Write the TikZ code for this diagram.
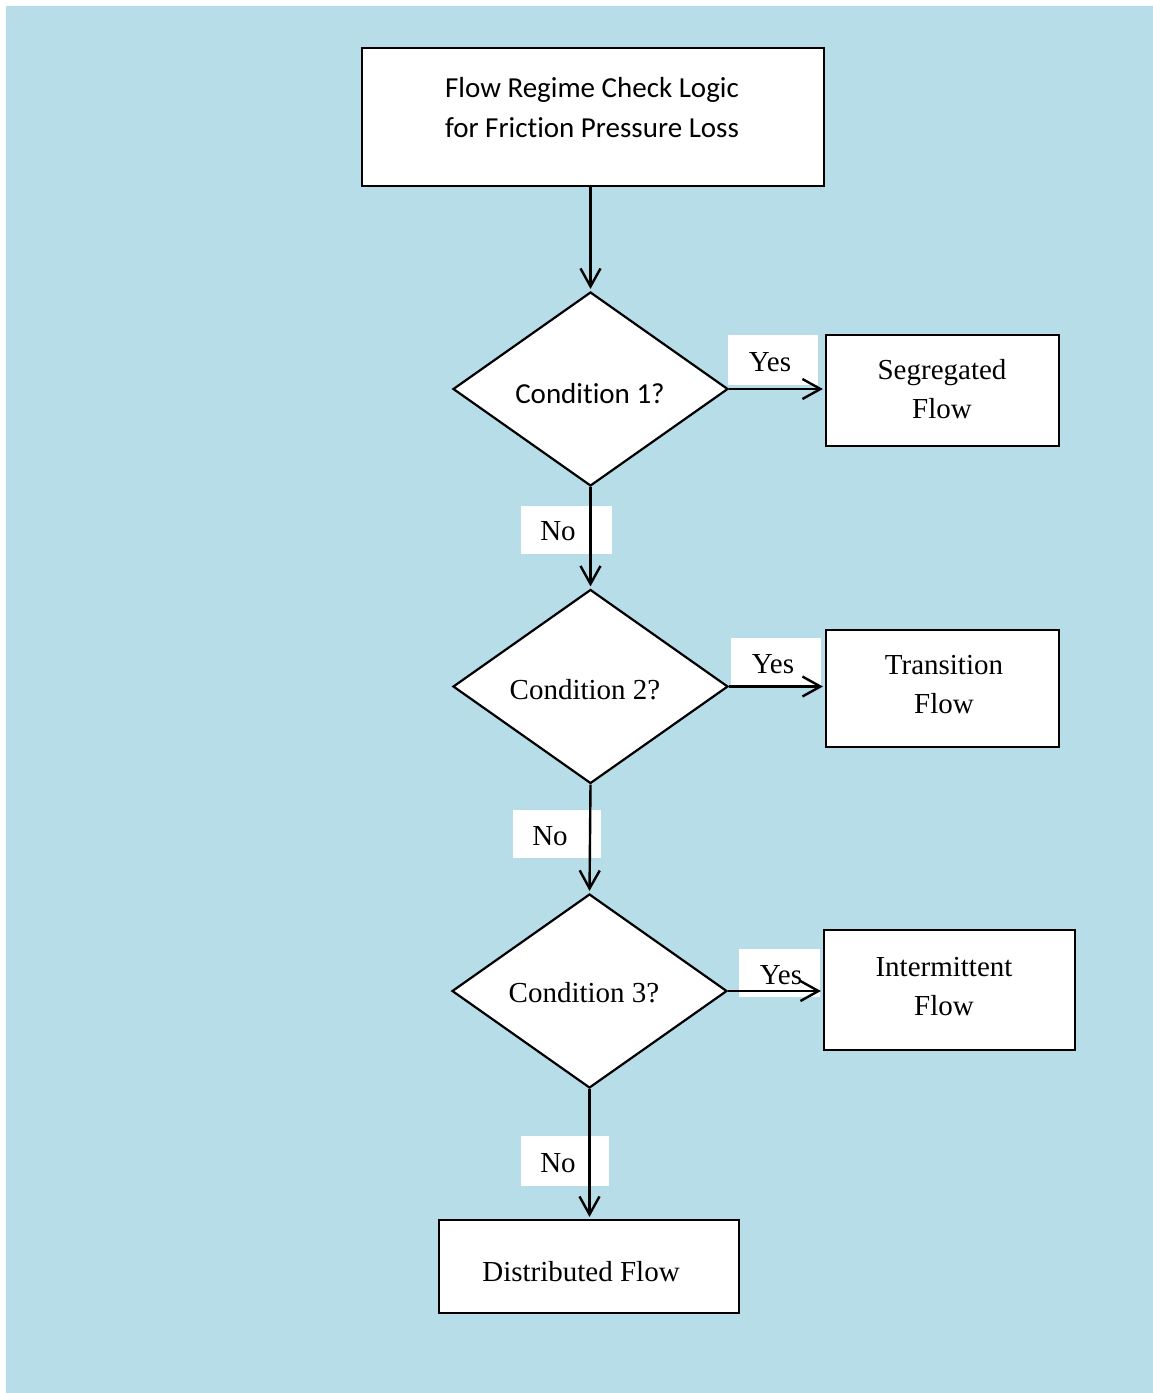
\documentclass[tikz,border=0pt]{standalone}
\usepackage{fontspec}
\setmainfont{Liberation Serif}
\newfontfamily\calfont[Ligatures=NoCommon]{Carlito}
\usetikzlibrary{shapes.geometric,arrows.meta}
\definecolor{bgblue}{HTML}{B7DDE8}
\begin{document}
\begin{tikzpicture}[x=1pt,y=-1pt,
  box/.style={draw=black,line width=2.2pt,fill=white,rectangle,inner sep=0pt},
  dia/.style={draw=black,line width=2.2pt,fill=white,diamond,inner sep=0pt,minimum width=275pt,minimum height=194pt},
  lblbox/.style={fill=white,draw=none,inner sep=0pt},
  txt/.style={font=\fontsize{29}{39}\selectfont,align=center,inner sep=0pt},
  caltxt/.style={font=\calfont\fontsize{29}{40}\selectfont,align=center,inner sep=0pt},
  conn/.style={line width=2.4pt,-{Straight Barb[length=18pt,width=20pt,line width=2.4pt]},shorten >=2pt}
]
\useasboundingbox (0,0) rectangle (1153,1393);
\fill[bgblue] (6,6) rectangle (1153,1393);

% main boxes
\node[box,minimum width=462pt,minimum height=138pt] (title) at (593,117) {};
\node[caltxt] (titlet) at (592,108) {Flow Regime Check Logic\\for Friction Pressure Loss};

\node[dia] (d1) at (590.5,389) {};
\node[caltxt] (d1t) at (590,394) {Condition 1?};
\node[dia] (d2) at (590.5,686.5) {};
\node[txt] (d2t) at (585,690) {Condition 2?};
\node[dia] (d3) at (589.5,991) {};
\node[txt] (d3t) at (584,993) {Condition 3?};

\node[box,minimum width=233pt,minimum height=111pt] (seg) at (942.5,390.5) {};
\node[txt] (segt) at (942,389) {Segregated\\Flow};
\node[box,minimum width=233pt,minimum height=117pt] (tra) at (942.5,688.5) {};
\node[txt] (trat) at (944,685) {Transition\\Flow};
\node[box,minimum width=251pt,minimum height=120pt] (int) at (949.5,990) {};
\node[txt] (intt) at (944,987) {Intermittent\\Flow};
\node[box,minimum width=300pt,minimum height=93pt] (dis) at (589,1266.5) {};
\node[txt] (dist) at (581,1272) {Distributed Flow};

% label boxes
\node[lblbox,minimum width=90pt,minimum height=50pt] (y1) at (773,360) {};
\node[txt] (y1t) at (770,362) {Yes};
\node[lblbox,minimum width=90pt,minimum height=49pt] (y2) at (776,662.5) {};
\node[txt] (y2t) at (773,664) {Yes};
\node[lblbox,minimum width=81pt,minimum height=48pt] (y3) at (779.5,973) {};
\node[txt] (y3t) at (781,975) {Yes};
\node[lblbox,minimum width=91pt,minimum height=48pt] (n1) at (566.5,530) {};
\node[txt] (n1t) at (558,531) {No};
\node[lblbox,minimum width=88pt,minimum height=48pt] (n2) at (557,834) {};
\node[txt] (n2t) at (550,836) {No};
\node[lblbox,minimum width=88pt,minimum height=50pt] (n3) at (565,1161) {};
\node[txt] (n3t) at (558,1163) {No};

% connectors
\draw[conn] (d1.north |- title.south) -- (d1.north);
\draw[conn] (d1.east) -- (d1.east -| seg.west);
\draw[conn] (d1.south) -- (d2.north);
\draw[conn] (d2.east) -- (d2.east -| tra.west);
\draw[conn] (d2.south) -- (d3.north);
\draw[conn] (d3.east) -- (d3.east -| int.west);
\draw[conn] (d3.south) -- (d3.south |- dis.north);
\end{tikzpicture}
\end{document}
